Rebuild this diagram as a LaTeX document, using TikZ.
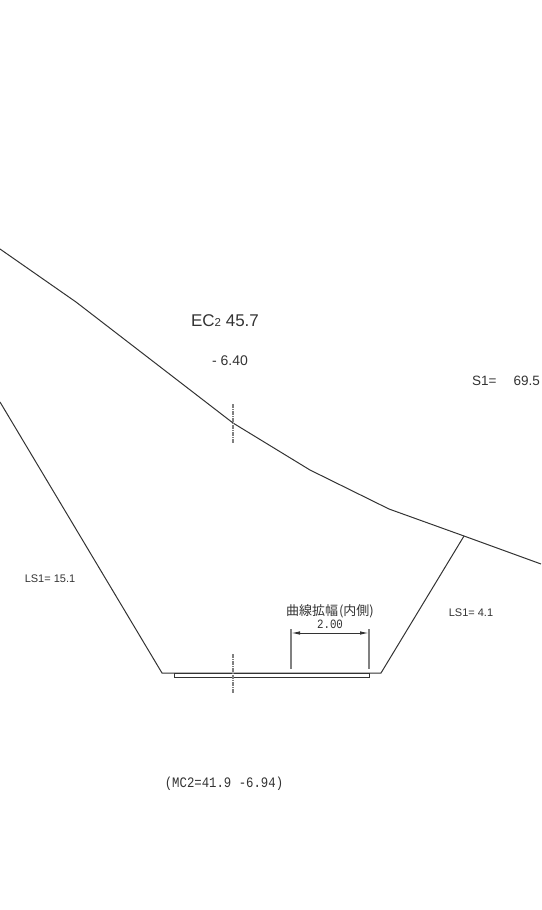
\documentclass[tikz,border=0pt]{standalone}
\usepackage{fontspec}
\setmainfont{Liberation Sans}
\setmonofont[FakeStretch=0.85]{Liberation Mono}
\newfontfamily\cjk{Noto Sans CJK JP}
\usetikzlibrary{arrows.meta}
\definecolor{inkgray}{gray}{0.2}
\begin{document}
\begin{tikzpicture}[x=1pt,y=-1pt,
  line/.style={draw=inkgray,line width=1pt},
  thin line/.style={draw=gray,line width=1.2pt},
  center line/.style={draw=gray,line width=1.1pt,dash pattern=on 4pt off 1pt on 1pt off 1pt},
  label/.style={font=\fontsize{#1}{#1}\selectfont,text=inkgray,inner sep=0pt},
  code/.style={font=\ttfamily\fontsize{#1}{#1}\selectfont,text=inkgray,inner sep=0pt}]
\useasboundingbox (0,0) rectangle (541,910);
\coordinate (G1) at (0,249); \coordinate (G2) at (76,302);
\coordinate (G3) at (233,423); \coordinate (G4) at (310,470);
\coordinate (G5) at (389,509); \coordinate (G6) at (464,536);
\coordinate (G7) at (541,564);
\coordinate (LT) at (0,402); \coordinate (LB) at (162,673);
\coordinate (RB) at (381,673);
\coordinate (PL) at (174,673); \coordinate (PR) at (369,677);
\coordinate (CT1) at (233,404); \coordinate (CB1) at (233,443);
\coordinate (CT2) at (233,654); \coordinate (CB2) at (233,693);
\coordinate (DL1) at (291,629); \coordinate (DL2) at (291,669);
\coordinate (DR1) at (369,629); \coordinate (DR2) at (369,669);
\coordinate (AL) at (291,633); \coordinate (AR) at (369,633);
\draw[line] (G1) -- (G2) -- (G3) -- (G4) -- (G5) -- (G6) -- (G7);
\draw[line] (LT) -- (LB) -- (RB) -- (G6);
\draw[line,line width=0.8pt] (PL) rectangle (PR);
\draw[center line] (CT1) -- (CB1);
\draw[center line] (CT2) -- (CB2);
\draw[thin line] (DL1) -- (DL2);
\draw[thin line] (DR1) -- (DR2);
\draw[line,{Latex[length=9pt,width=3.5pt]}-{Latex[length=9pt,width=3.5pt]}] (AL) -- (AR);
\node (EC) [label=17] at (225,320.5) {EC{\fontsize{11.5}{11.5}\selectfont 2} 45.7};
\node (EL) [label=14] at (230,361) {- 6.40};
\node (S) [label=13.5] at (506,381) {S1=\hspace{17pt}69.5};
\node (LSL) [label=11] at (50,579) {LS1= 15.1};
\node (LSR) [label=11] at (471,613) {LS1= 4.1};
\node (WT) [label=13,font=\cjk\fontsize{13}{13}\selectfont] at (330,611.5) {曲線拡幅\hspace{1pt}(内側)};
\node (WV) [code=12.7] at (330,624.5) {2.00};
\node (MC) [code=14.5] at (224,784) {(MC2=41.9 -6.94)};
\end{tikzpicture}
\end{document}
